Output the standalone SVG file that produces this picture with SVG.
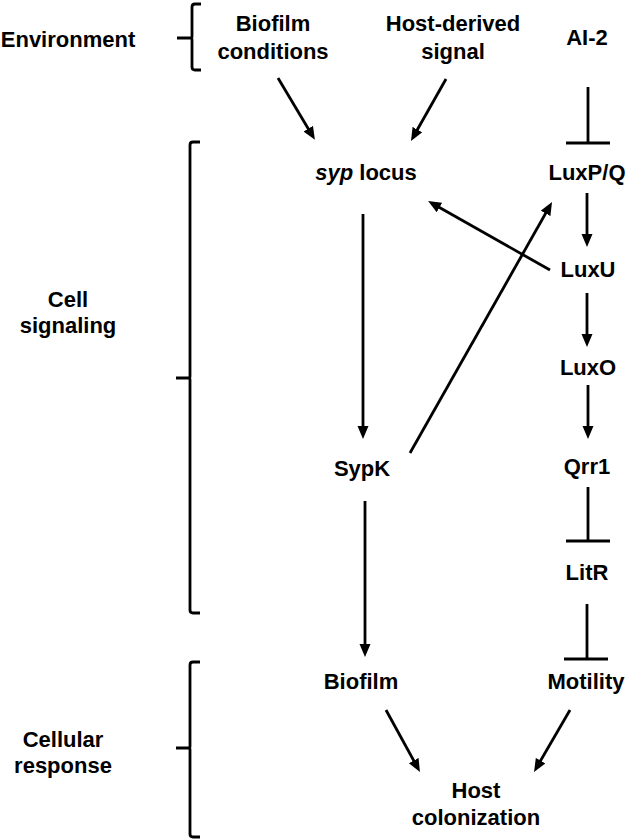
<svg xmlns="http://www.w3.org/2000/svg" width="628" height="839" viewBox="0 0 628 839">
<style>
text{font-family:"Liberation Sans",Arial,sans-serif;font-weight:bold;font-size:22px;fill:#000;text-anchor:middle}
.ln{stroke:#000;stroke-width:2.8;fill:none}
.br{stroke:#000;stroke-width:2.8;fill:none;stroke-linejoin:round}
</style>
<defs>
<marker id="ah" markerUnits="userSpaceOnUse" markerWidth="14" markerHeight="12" refX="8.5" refY="5.5" orient="auto">
<path d="M0,0 L13,5.5 L0,11 z" fill="#000"/>
</marker>
</defs>
<rect width="628" height="839" fill="#fff"/>
<g id="brackets">
<path class="br" d="M201,4 H195 Q192,4 192,7 V36.5 Q192,38 190,38 H177 M190,38 Q192,38 192,39.5 V67 Q192,70 195,70 H201"/>
<path class="br" d="M200,142 H193 Q190,142 190,145 V376.5 Q190,378 188,378 H176 M188,378 Q190,378 190,379.5 V610 Q190,613 193,613 H200"/>
<path class="br" d="M200,662 H193 Q190,662 190,665 V746.5 Q190,748 188,748 H176 M188,748 Q190,748 190,749.5 V834 Q190,837 193,837 H200"/>
</g>
<g id="categories">
<text id="environment" x="68" y="47">Environment</text>
<g id="cell-signaling"><text x="68" y="307">Cell</text><text x="68" y="333">signaling</text></g>
<g id="cellular-response"><text x="63" y="747">Cellular</text><text x="63" y="773">response</text></g>
</g>
<g id="connectors">
<line class="ln" x1="278" y1="78" x2="312.6" y2="136" marker-end="url(#ah)"/>
<line class="ln" x1="446" y1="79" x2="413.2" y2="137" marker-end="url(#ah)"/>
<line class="ln" x1="587" y1="193" x2="587" y2="242.5" marker-end="url(#ah)"/>
<line class="ln" x1="550" y1="270" x2="432" y2="203.3" marker-end="url(#ah)"/>
<line class="ln" x1="410" y1="453" x2="549.8" y2="206" marker-end="url(#ah)"/>
<line class="ln" x1="363" y1="214" x2="363" y2="434.5" marker-end="url(#ah)"/>
<line class="ln" x1="587" y1="293" x2="587" y2="342.5" marker-end="url(#ah)"/>
<line class="ln" x1="588" y1="385" x2="588" y2="434.5" marker-end="url(#ah)"/>
<line class="ln" x1="365" y1="501" x2="365" y2="652.5" marker-end="url(#ah)"/>
<line class="ln" x1="386" y1="710" x2="417.8" y2="768" marker-end="url(#ah)"/>
<line class="ln" x1="570" y1="710" x2="536.3" y2="768" marker-end="url(#ah)"/>
<path class="ln" d="M588,87 V143 M566,143 H610"/>
<path class="ln" d="M588,487 V541 M566,541 H610"/>
<path class="ln" d="M587,604 V659 M564,659 H608"/>
</g>
<g id="biofilm-conditions"><text x="273" y="31">Biofilm</text><text x="273" y="59">conditions</text></g>
<g id="host-derived-signal"><text x="453" y="31">Host-derived</text><text x="453" y="59">signal</text></g>
<g id="ai2"><text x="587" y="45">AI-2</text></g>
<g id="syp-locus"><text x="366" y="180"><tspan font-style="italic">syp</tspan> locus</text></g>
<g id="luxpq"><text x="587" y="180">LuxP/Q</text></g>
<g id="luxu"><text x="588" y="277">LuxU</text></g>
<g id="luxo"><text x="588" y="375">LuxO</text></g>
<g id="sypk"><text x="362" y="476">SypK</text></g>
<g id="qrr1"><text x="587" y="474">Qrr1</text></g>
<g id="litr"><text x="587" y="580">LitR</text></g>
<g id="biofilm"><text x="361" y="689">Biofilm</text></g>
<g id="motility"><text x="586" y="689">Motility</text></g>
<g id="host-colonization"><text x="476" y="798">Host</text><text x="476" y="825">colonization</text></g>
</svg>
